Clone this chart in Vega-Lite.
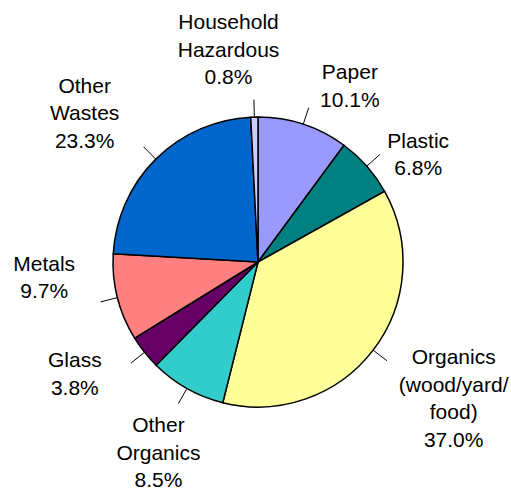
{
  "$schema": "https://vega.github.io/schema/vega-lite/v6.json",
  "width": 511,
  "height": 493,
  "autosize": "none",
  "padding": 0,
  "background": "white",
  "config": {
    "view": {"stroke": null},
    "text": {"font": "Liberation Sans", "fontSize": 21, "lineHeight": 27.5, "lineBreak": "\n", "align": "center", "baseline": "middle", "color": "black"}
  },
  "data": {
    "values": [
      {"idx": 1, "cat": "Paper", "name": "Paper", "value": 10.1},
      {"idx": 2, "cat": "Plastic", "name": "Plastic", "value": 6.8},
      {"idx": 3, "cat": "Organics (wood/yard/food)", "name": "Organics\n(wood/yard/\nfood)", "value": 37.0},
      {"idx": 4, "cat": "Other Organics", "name": "Other\nOrganics", "value": 8.5},
      {"idx": 5, "cat": "Glass", "name": "Glass", "value": 3.8},
      {"idx": 6, "cat": "Metals", "name": "Metals", "value": 9.7},
      {"idx": 7, "cat": "Other Wastes", "name": "Other\nWastes", "value": 23.3},
      {"idx": 8, "cat": "Household Hazardous", "name": "Household\nHazardous", "value": 0.8}
    ]
  },
  "transform": [
    {"joinaggregate": [{"op": "sum", "field": "value", "as": "total"}]},
    {"window": [{"op": "sum", "field": "value", "as": "cum"}], "sort": [{"field": "idx"}], "frame": [null, 0]},
    {"calculate": "2*PI*(datum.cum - datum.value/2)/datum.total", "as": "mid"},
    {"calculate": "sin(datum.mid)", "as": "ex"},
    {"calculate": "cos(datum.mid)", "as": "ey"},
    {"calculate": "1.12*datum.ex", "as": "ox"},
    {"calculate": "1.12*datum.ey", "as": "oy"},
    {"calculate": "1.5*datum.ex", "as": "lx"},
    {"calculate": "1.42*datum.ey", "as": "ly"},
    {"calculate": "datum.name + '\\n' + format(datum.value, '.1f') + '%'", "as": "label"}
  ],
  "encoding": {
    "x": {"field": "lx", "type": "quantitative", "scale": {"domain": [-1.7793, 1.7448], "nice": false, "zero": false}, "axis": null},
    "y": {"field": "ly", "type": "quantitative", "scale": {"domain": [-1.5931, 1.8069], "nice": false, "zero": false}, "axis": null},
    "text": {"field": "label"}
  },
  "layer": [
    {
      "mark": {"type": "arc", "outerRadius": 145, "stroke": "black", "strokeWidth": 1.5},
      "encoding": {
        "x": {"datum": 0, "type": "quantitative"},
        "y": {"datum": 0, "type": "quantitative"},
        "text": null,
        "theta": {"field": "value", "type": "quantitative", "stack": true},
        "order": {"field": "idx", "type": "quantitative"},
        "color": {
          "field": "cat",
          "type": "nominal",
          "legend": null,
          "scale": {
            "domain": ["Paper", "Plastic", "Organics (wood/yard/food)", "Other Organics", "Glass", "Metals", "Other Wastes", "Household Hazardous"],
            "range": ["#9999FF", "#008080", "#FFFF99", "#33CCCC", "#660066", "#FF8080", "#0066CC", "#CCCCFF"]
          }
        }
      }
    },
    {
      "mark": {"type": "rule", "color": "black", "strokeWidth": 1},
      "encoding": {
        "x": {"field": "ex", "type": "quantitative"},
        "y": {"field": "ey", "type": "quantitative"},
        "x2": {"field": "ox"},
        "y2": {"field": "oy"},
        "text": null
      }
    },
    {"transform": [{"filter": "datum.idx == 1"}], "mark": {"type": "text", "dx": 24, "dy": 7}},
    {"transform": [{"filter": "datum.idx == 2"}], "mark": {"type": "text", "dx": -3, "dy": 16}},
    {"transform": [{"filter": "datum.idx == 3"}], "mark": {"type": "text", "dx": 23, "dy": -29}},
    {"transform": [{"filter": "datum.idx == 4"}], "mark": {"type": "text", "dx": 7, "dy": -15}},
    {"transform": [{"filter": "datum.idx == 5"}], "mark": {"type": "text", "dx": -13, "dy": -29}},
    {"transform": [{"filter": "datum.idx == 6"}], "mark": {"type": "text", "dx": -3, "dy": -48}},
    {"transform": [{"filter": "datum.idx == 7"}], "mark": {"type": "text", "dx": -20, "dy": -29}},
    {"transform": [{"filter": "datum.idx == 8"}], "mark": {"type": "text", "dx": -24, "dy": -33}}
  ]
}
